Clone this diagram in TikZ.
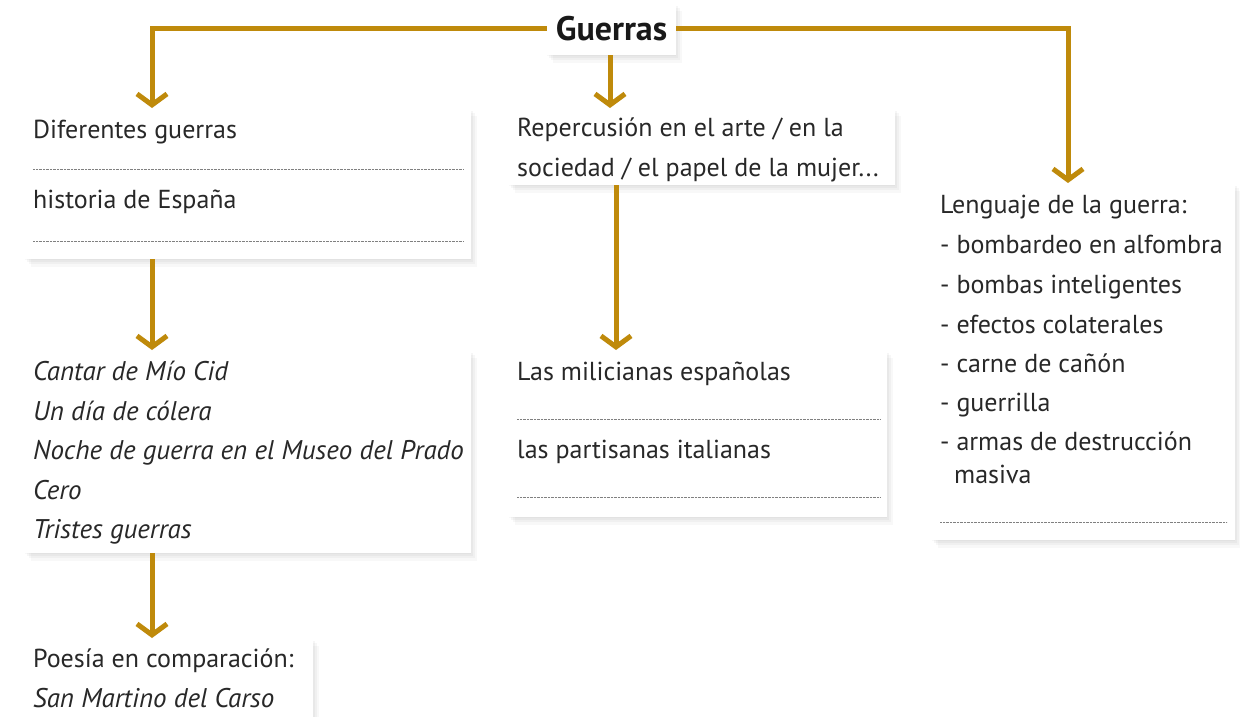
\documentclass[tikz,border=0pt]{standalone}
\usepackage{fontspec}
\setmainfont{PT Sans}
\usetikzlibrary{arrows.meta,shadows}

\definecolor{oro}{RGB}{191,138,11}
\definecolor{tinta}{RGB}{40,40,40}

\tikzset{
  caja/.style={fill=white, inner sep=0pt, anchor=north west,
    drop shadow={opacity=0.05, shadow xshift=6pt, shadow yshift=-8pt},
    drop shadow={opacity=0.06, shadow xshift=4pt, shadow yshift=-5pt},
    drop shadow={opacity=0.07, shadow xshift=2pt, shadow yshift=-3pt},
    drop shadow={opacity=0.05, shadow xshift=0pt, shadow yshift=-1pt}},
  texto/.style={anchor=base west, inner sep=0pt, text=tinta,
    font=\fontsize{26}{30}\selectfont},
  cursiva/.style={texto, font=\fontsize{27}{30}\selectfont\itshape},
  flecha/.style={draw=oro, line width=5pt, -{Straight Barb[length=11pt, width=30pt]}},
  puntos/.style={draw=gray, line width=0.8pt, dash pattern=on 0.7pt off 0.7pt}
}

\begin{document}
\begin{tikzpicture}[x=1pt,y=1pt,yscale=-1]
\fill[white] (0,0) rectangle (1240,717);
\useasboundingbox (0,0) rectangle (1240,717);

%Shape: Rectangle
\node[caja, minimum width=446pt, minimum height=151pt] (historia) at (25,108) {};
\node[caja, minimum width=386pt, minimum height=77pt] (arte) at (509,108) {};
\node[caja, minimum width=303pt, minimum height=357pt] (lenguaje) at (932,183) {};
\node[caja, minimum width=446pt, minimum height=203pt] (obras) at (25,350) {};
\node[caja, minimum width=378pt, minimum height=167pt] (mujer) at (509,350) {};
\node[caja, minimum width=288pt, minimum height=100pt] (poesia) at (25,638) {};
\node[caja, anchor=center, minimum width=129pt, minimum height=52pt,
  text=black!90, font=\fontsize{34}{34}\selectfont\bfseries] (guerras) at (611.5,29) {Guerras};

% entry points
\coordinate (inA) at (152,108);
\coordinate (inB) at (610,108);
\coordinate (inC) at (1068,183);
\coordinate (inF) at (616,350);

%Straight Lines
\draw[flecha] (guerras.west) -| (inA);
\draw[flecha] (guerras.south -| inB) -- (inB);
\draw[flecha] (guerras.east) -| (inC);
\draw[flecha] (inA |- historia.south) -- (inA |- obras.north);
\draw[flecha] (inF |- arte.south) -- (inF);
\draw[flecha] (inA |- obras.south) -- (inA |- poesia.north);

% dotted lines
\draw[puntos] (33,169) -- (464,169);
\draw[puntos] (33,241) -- (464,241);
\draw[puntos] (517,419) -- (880,419);
\draw[puntos] (517,497) -- (880,497);
\draw[puntos] (940,522) -- (1227,522);

% Text Node
\node[texto] (t1) at (33,138) {Diferentes guerras};
% Text Node
\node[texto] (t2) at (33,208) {historia de España};
% Text Node
\node[texto] (t3) at (517,136) {Repercusión en el arte / en la};
% Text Node
\node[texto] (t4) at (517,176) {sociedad / el papel de la mujer...};
% Text Node
\node[texto] (t5) at (517,380) {Las milicianas españolas};
% Text Node
\node[texto] (t6) at (517,458) {las partisanas italianas};
% Text Node
\node[texto] (t7) at (940,213) {Lenguaje de la guerra:};
\node[texto] (t8) at (940,253) {- bombardeo en alfombra};
\node[texto] (t9) at (940,293) {- bombas inteligentes};
\node[texto] (t10) at (940,333) {- efectos colaterales};
\node[texto] (t11) at (940,372) {- carne de cañón};
\node[texto] (t12) at (940,411) {- guerrilla};
\node[texto] (t13) at (940,450) {- armas de destrucción};
\node[texto] (t14) at (954,483) {masiva};
% Text Node
\node[cursiva] (t15) at (33,380) {Cantar de Mío Cid};
\node[cursiva] (t16) at (33,420) {Un día de cólera};
\node[cursiva] (t17) at (33,459) {Noche de guerra en el Museo del Prado};
\node[cursiva] (t18) at (33,499) {Cero};
\node[cursiva] (t19) at (33,538) {Tristes guerras};
% Text Node
\node[texto] (t20) at (33,667) {Poesía en comparación:};
\node[cursiva] (t21) at (33,707) {San Martino del Carso};

\end{tikzpicture}
\end{document}
